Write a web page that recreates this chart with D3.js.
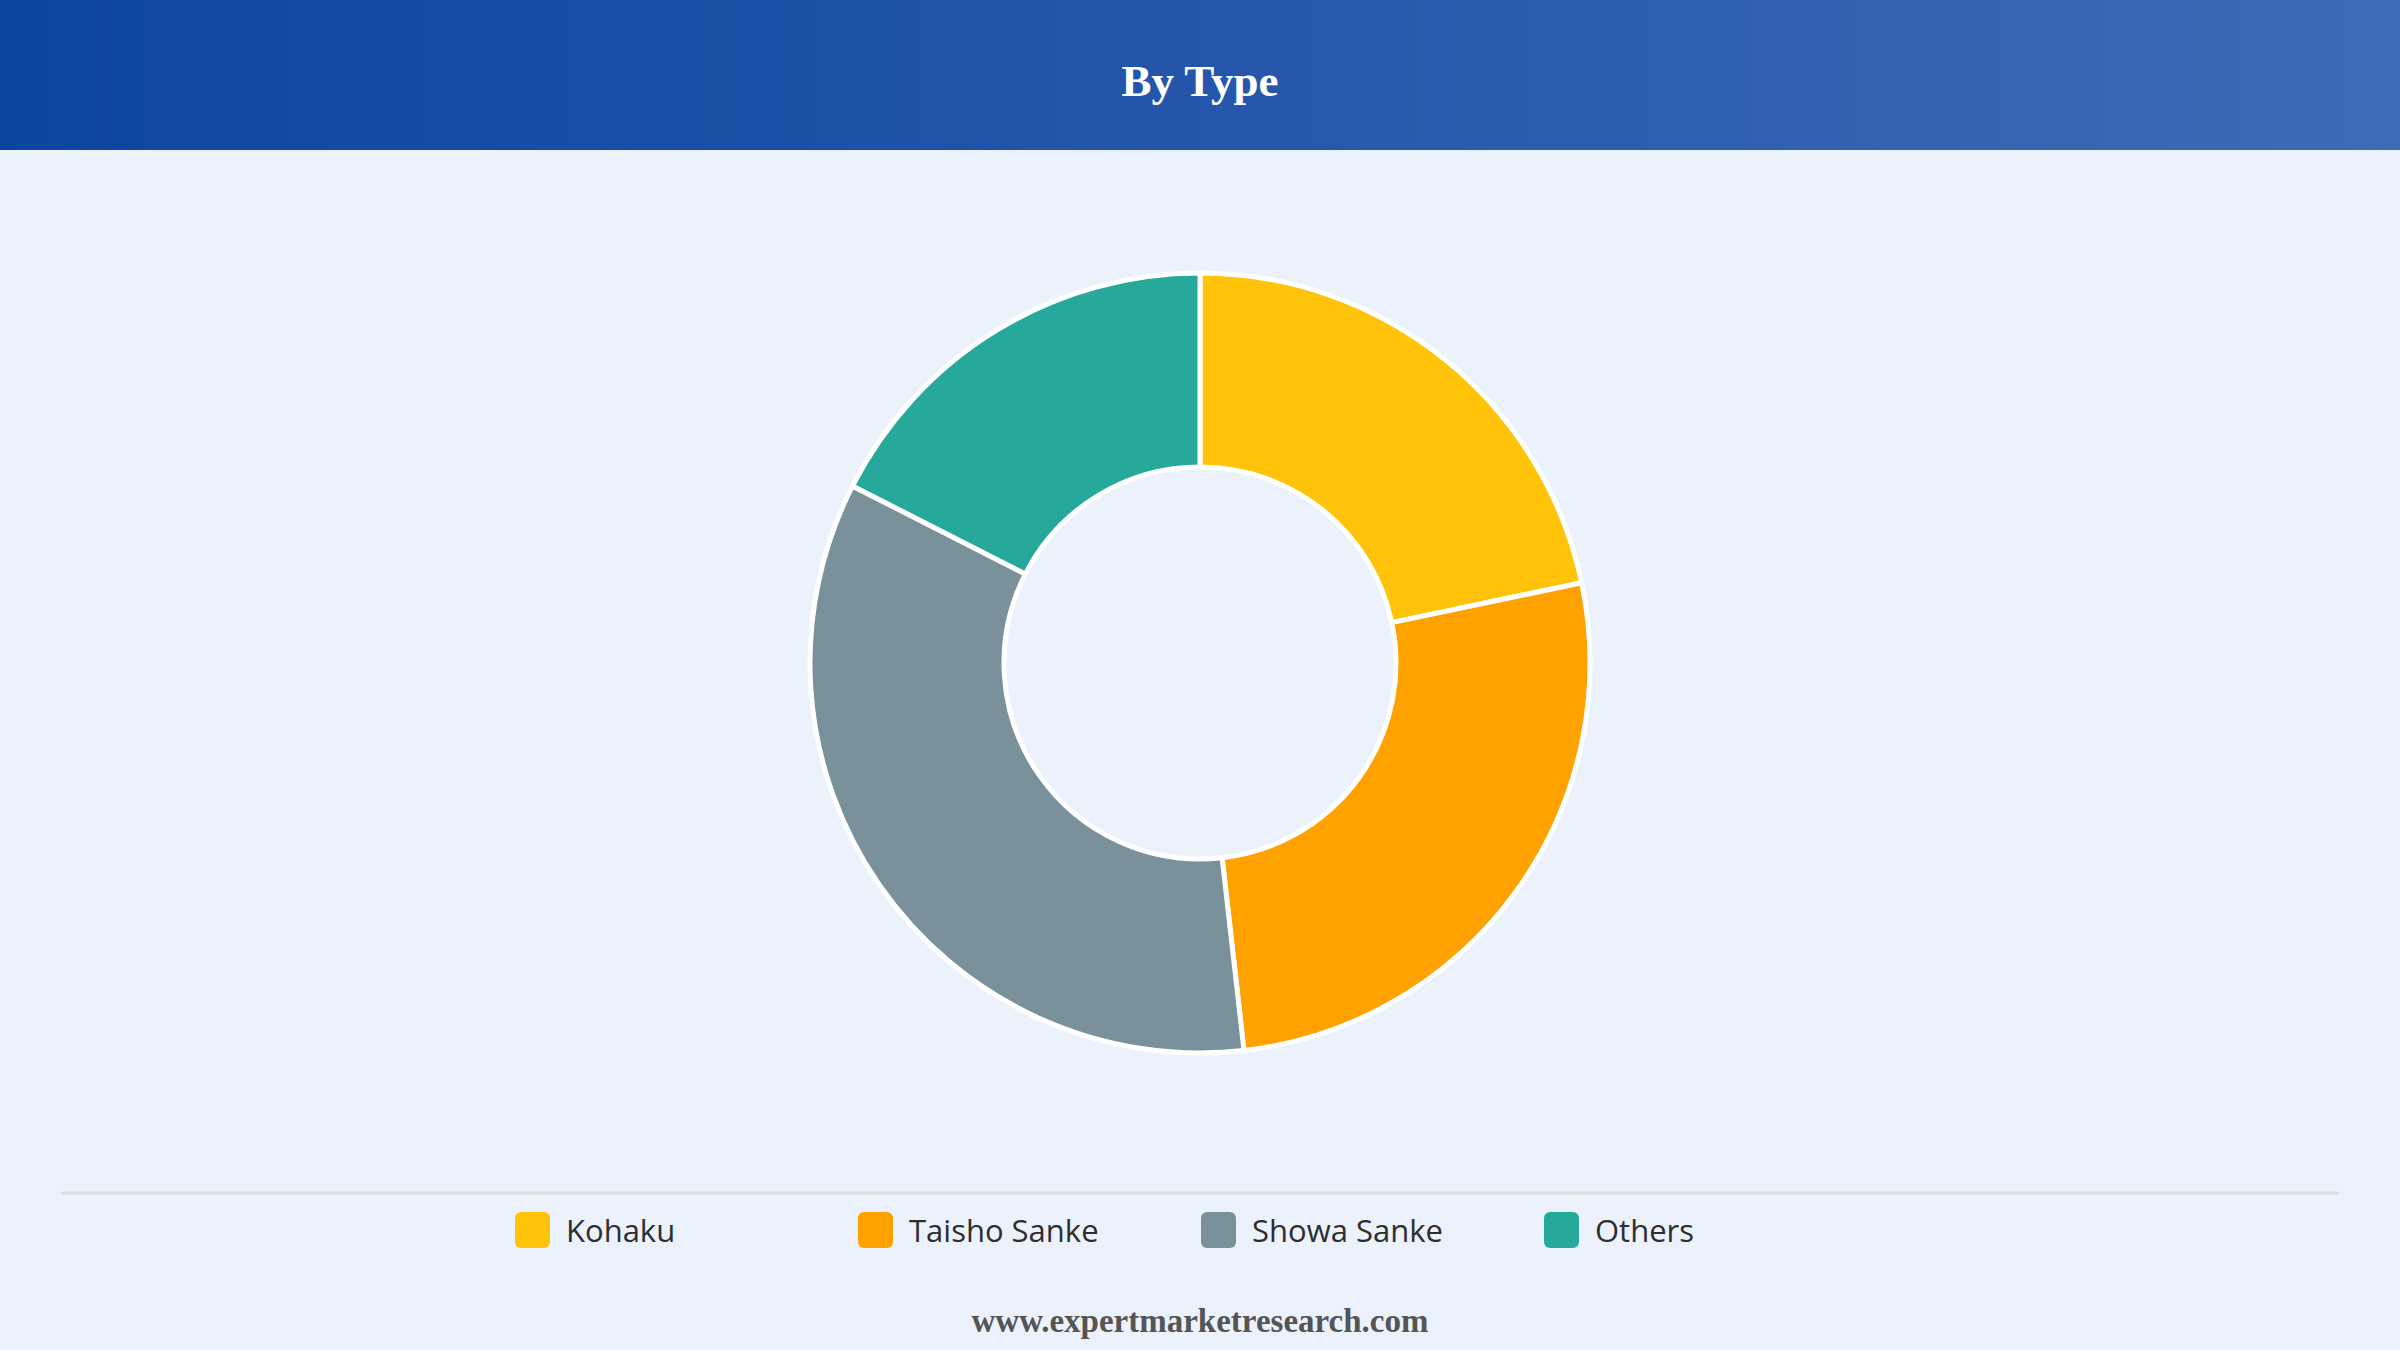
<!DOCTYPE html>
<html>
<head>
<meta charset="utf-8">
<script src="https://cdn.jsdelivr.net/npm/d3@7"></script>
<style>
  html, body { margin: 0; padding: 0; background: #ebf2fb; }
  svg { display: block; }
</style>
</head>
<body>
<svg id="chart" width="2400" height="1350"></svg>
<script>
const title = "By Type";
const categories = ["Kohaku", "Taisho Sanke", "Showa Sanke", "Others"];
const values = [21.7, 26.5, 34.3, 17.5];
const colors = ["#ffc30a", "#ffa200", "#7a919b", "#26a89b"];
const footer = "www.expertmarketresearch.com";

const W = 2400, H = 1350;
const svg = d3.select("#chart");

const defs = svg.append("defs");
const grad = defs.append("linearGradient").attr("id", "hdr").attr("x1", "0%").attr("x2", "100%");
grad.append("stop").attr("offset", "0%").attr("stop-color", "#0c45a0");
grad.append("stop").attr("offset", "50%").attr("stop-color", "#2556ab");
grad.append("stop").attr("offset", "100%").attr("stop-color", "#3d6cb5");

svg.append("rect").attr("width", W).attr("height", H).attr("fill", "#ebf2fb");
svg.append("rect").attr("width", W).attr("height", 150).attr("fill", "url(#hdr)");
svg.append("text")
  .attr("x", W / 2).attr("y", 81)
  .attr("text-anchor", "middle").attr("dominant-baseline", "central")
  .attr("font-family", "'Liberation Serif', 'Times New Roman', serif")
  .attr("font-weight", "bold").attr("font-size", 45).attr("fill", "#ffffff")
  .text(title);

const cx = 1200, cy = 663, rOuter = 390, rInner = 196;
const pie = d3.pie().sort(null).value(d => d.v);
const arc = d3.arc().innerRadius(rInner).outerRadius(rOuter);
const data = categories.map((c, i) => ({ c, v: values[i], col: colors[i] }));

svg.append("g").attr("transform", `translate(${cx},${cy})`)
  .selectAll("path").data(pie(data)).join("path")
  .attr("d", arc)
  .attr("fill", d => d.data.col)
  .attr("stroke", "#ffffff").attr("stroke-width", 5).attr("stroke-linejoin", "round");

svg.append("line").attr("x1", 61).attr("x2", 2339).attr("y1", 1193).attr("y2", 1193)
  .attr("stroke", "#dcdee2").attr("stroke-width", 3);

const legendX = d3.scalePoint().domain(categories).range([515, 1544]);
const lg = svg.append("g").selectAll("g").data(data).join("g")
  .attr("transform", d => `translate(${legendX(d.c)},1230)`);
lg.append("rect").attr("x", 0).attr("y", -18).attr("width", 35).attr("height", 36)
  .attr("rx", 6).attr("fill", d => d.col);
lg.append("text").attr("x", 51).attr("y", 0).attr("dominant-baseline", "central")
  .attr("font-family", "'Open Sans', 'Noto Sans', sans-serif").attr("font-size", 31)
  .attr("fill", "#2e2e2e").text(d => d.c);

svg.append("text")
  .attr("x", W / 2).attr("y", 1332)
  .attr("text-anchor", "middle")
  .attr("font-family", "'Liberation Serif', 'Times New Roman', serif")
  .attr("font-weight", "bold").attr("font-size", 33).attr("fill", "#555555")
  .text(footer);
</script>
</body>
</html>
